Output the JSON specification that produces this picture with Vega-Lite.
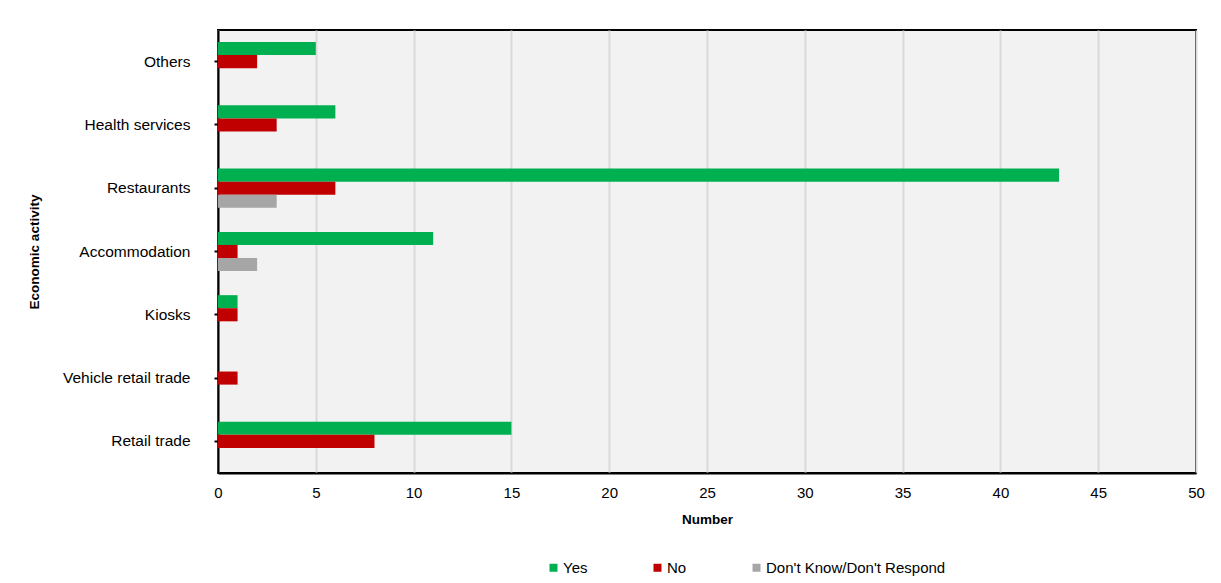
{
  "$schema": "https://vega.github.io/schema/vega-lite/v6.json",
  "autosize": "none",
  "width": 978,
  "height": 443,
  "padding": {"left": 218, "top": 30, "right": 25, "bottom": 110},
  "background": "white",
  "data": {
    "values": [
      {"activity": "Others", "response": "Yes", "value": 5},
      {"activity": "Others", "response": "No", "value": 2},
      {"activity": "Health services", "response": "Yes", "value": 6},
      {"activity": "Health services", "response": "No", "value": 3},
      {"activity": "Restaurants", "response": "Yes", "value": 43},
      {"activity": "Restaurants", "response": "No", "value": 6},
      {"activity": "Restaurants", "response": "Don't Know/Don't Respond", "value": 3},
      {"activity": "Accommodation", "response": "Yes", "value": 11},
      {"activity": "Accommodation", "response": "No", "value": 1},
      {"activity": "Accommodation", "response": "Don't Know/Don't Respond", "value": 2},
      {"activity": "Kiosks", "response": "Yes", "value": 1},
      {"activity": "Kiosks", "response": "No", "value": 1},
      {"activity": "Vehicle retail trade", "response": "No", "value": 1},
      {"activity": "Retail trade", "response": "Yes", "value": 15},
      {"activity": "Retail trade", "response": "No", "value": 8}
    ]
  },
  "mark": {"type": "bar"},
  "encoding": {
    "y": {
      "field": "activity",
      "type": "nominal",
      "sort": ["Others", "Health services", "Restaurants", "Accommodation", "Kiosks", "Vehicle retail trade", "Retail trade"],
      "scale": {"paddingInner": 0.38, "paddingOuter": 0.19},
      "axis": {
        "title": "Economic activity",
        "titleFont": "Liberation Sans",
        "titleFontSize": 13.5,
        "titleFontWeight": "bold",
        "titleColor": "#000000",
        "titlePadding": 21,
        "labelFont": "Liberation Sans",
        "labelFontSize": 15.5,
        "labelColor": "#000000",
        "labelPadding": 24,
        "labelLimit": 300,
        "domainColor": "#000000",
        "domainWidth": 2,
        "tickColor": "#000000",
        "tickWidth": 2,
        "tickSize": 4,
        "grid": false
      }
    },
    "yOffset": {
      "field": "response",
      "type": "nominal",
      "sort": ["Yes", "No", "Don't Know/Don't Respond"],
      "scale": {"domain": ["Yes", "No", "Don't Know/Don't Respond"], "paddingInner": 0, "paddingOuter": 0}
    },
    "x": {
      "field": "value",
      "type": "quantitative",
      "scale": {"domain": [0, 50], "nice": false},
      "axis": {
        "title": "Number",
        "titleFont": "Liberation Sans",
        "titleFontSize": 13.5,
        "titleFontWeight": "bold",
        "titleColor": "#000000",
        "titlePadding": 12,
        "values": [0, 5, 10, 15, 20, 25, 30, 35, 40, 45, 50],
        "labelFont": "Liberation Sans",
        "labelFontSize": 15,
        "labelColor": "#000000",
        "labelPadding": 12,
        "labelFlush": false,
        "ticks": false,
        "domainColor": "#000000",
        "domainWidth": 2,
        "grid": true,
        "gridColor": "#d9d9d9",
        "gridWidth": 2
      }
    },
    "color": {
      "field": "response",
      "type": "nominal",
      "scale": {
        "domain": ["Yes", "No", "Don't Know/Don't Respond"],
        "range": ["#00b050", "#c00000", "#a6a6a6"]
      },
      "legend": {
        "title": null,
        "orient": "none",
        "legendX": 328,
        "legendY": 530,
        "direction": "horizontal",
        "symbolType": "square",
        "symbolSize": 64,
        "symbolStrokeWidth": 0,
        "labelFont": "Liberation Sans",
        "labelFontSize": 15,
        "labelColor": "#000000",
        "labelOffset": 2,
        "labelLimit": 400,
        "columnPadding": 62
      }
    }
  },
  "config": {
    "view": {"fill": "#f2f2f2", "stroke": "#000000", "strokeWidth": 2}
  }
}
